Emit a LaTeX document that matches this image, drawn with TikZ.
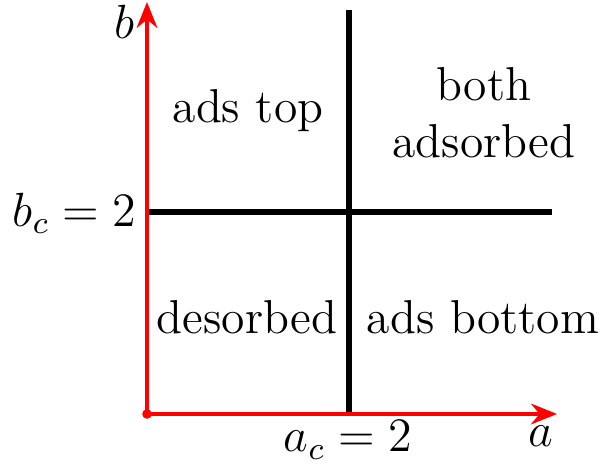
\documentclass[tikz,border=0pt]{standalone}
\usetikzlibrary{arrows.meta}
\begin{document}
\begin{tikzpicture}[x=0.25pt,y=-0.25pt,
  axis/.style={red,line width=0.8pt,-{Stealth[length=6.5pt,width=5.2pt]}},
  boundary/.style={black,line width=1.5pt},
  lbl/.style={inner sep=0pt,font=\fontsize{11.9}{14.3}\selectfont}]
\useasboundingbox (0,0) rectangle (600,468);
\coordinate (O) at (147,414);
\coordinate (Ytop) at (147,2);
\coordinate (Xend) at (557,414);
\coordinate (Hl) at (147,212);
\coordinate (Hr) at (552,212);
\coordinate (Vt) at (349,10);
\coordinate (Vb) at (349,414);
\draw[boundary] (Hl) -- (Hr);
\draw[boundary] (Vt) -- (Vb);
\draw[axis] (O) -- (Ytop);
\draw[axis] (O) -- (Xend);
\fill[red] (O) circle (1.2pt);
\node[lbl] (bl) at (124,22) {$b$};
\node[lbl] (al) at (541,436) {$a$};
\node[lbl,anchor=east] (bc) at (137,213) {$b_c=2$};
\node[lbl] (ac) at (348,440) {$a_c=2$};
\node[lbl] (adstop) at (248,111) {ads top};
\node[lbl,align=center] (both) at (484,113) {both\\adsorbed};
\node[lbl] (des) at (247,317) {desorbed};
\node[lbl] (adsbot) at (483,317) {ads bottom};
\end{tikzpicture}
\end{document}
